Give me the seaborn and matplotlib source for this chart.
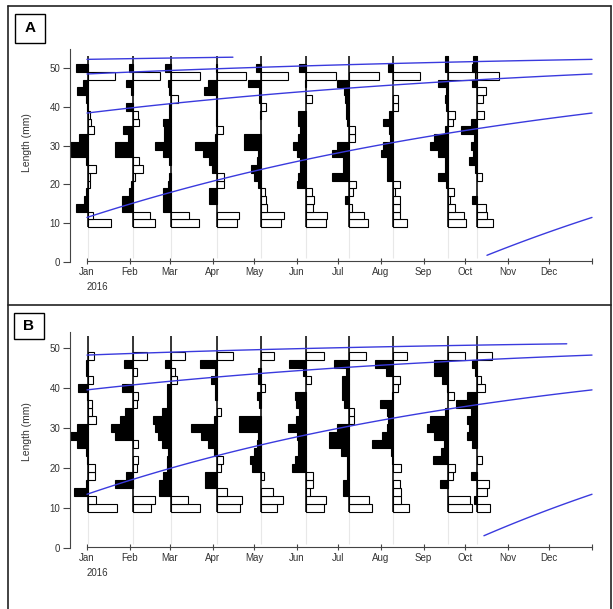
import numpy as np
import pandas as pd
import matplotlib
matplotlib.use('Agg')
import matplotlib.pyplot as plt
import seaborn as sns
from matplotlib.patches import Rectangle
from matplotlib.lines import Line2D

# sampling dates (one histogram per date)
sample_dates = ['2016-01-02', '2016-02-03', '2016-03-02', '2016-04-04', '2016-05-06',
                '2016-06-08', '2016-07-09', '2016-08-10', '2016-09-19', '2016-10-10']

# length class mid points (mm)
length_mids = [10, 12, 14, 16, 18, 20, 22, 24, 26, 28, 30,
               32, 34, 36, 38, 40, 42, 44, 46, 48, 50, 52]

# restructured scores, one row per sample, bins 10..52 mm
# positive = white bar to the right, negative = black bar to the left
scores_a = [
    [23, 5, -12, -4, -2, 2, 2, 8, -2, -17, -18, -9, 6, 3, 2, -1, -2, -11, -5, 27, -12, 0],      # Jan
    [22, 17, -11, -11, -4, -2, 2, 10, 6, -18, -18, -5, -10, 6, 5, -7, 0, -2, -7, 27, -4, 0],    # Feb
    [28, 18, -8, -8, -8, -3, -2, 0, -2, -8, -16, -7, -7, -8, -2, -2, 7, -2, -3, 29, -6, 0],     # Mar
    [20, 22, 0, -8, -8, 7, 7, -5, -8, -14, -22, -2, 6, -1, -1, -1, -1, -13, -9, 29, -1, 0],     # Apr
    [20, 23, 6, 5, 4, -3, -7, -10, -4, -3, -17, -17, 0, 0, -1, 5, -2, -2, -13, 27, -5, 0],      # May
    [20, 21, 7, 8, 6, -9, -8, -6, -6, -9, -13, -8, -6, -8, -8, 0, 6, 0, -1, 30, -7, 0],         # Jun
    [19, 15, 3, -4, 4, 7, -17, -6, -6, -17, -12, 6, 6, -2, -3, -3, -4, -5, -12, 30, 0, 0],      # Jul
    [14, 7, 7, 7, 2, 7, -6, -6, -6, -12, -10, -3, -4, -10, -4, 5, 5, 0, 0, 27, -5, 0],          # Aug
    [18, 16, 7, 2, 6, -2, -10, -3, -3, -10, -18, -14, -3, 5, 7, -2, -3, -2, -10, 27, -3, -3],   # Sep
    [16, 10, 9, -5, 0, 0, 5, -2, -8, -4, -6, -3, -16, -6, 7, 0, 6, 9, -5, 22, -5, -4],          # Oct
]
scores_b = [
    [29, 8, -14, -2, 7, 7, -1, -2, -11, -21, -11, 8, 4, 4, -1, -10, 5, -2, -2, 6, 0, 0],        # Jan
    [18, 22, 0, -18, -7, 4, 5, 0, 5, -18, -22, -13, -8, 4, 5, -11, 0, 4, -9, 14, 0, 0],         # Feb
    [29, 17, -12, -12, -8, -4, -4, -3, -9, -13, -16, -18, -9, -4, -4, -4, 6, 4, -6, 14, 0, 0],  # Mar
    [23, 25, 10, -12, -12, 4, 6, -3, -9, -16, -26, -3, 4, 0, -2, -2, -6, -2, -17, 16, 0, 0],    # Apr
    [16, 22, 12, 0, 3, -9, -11, -7, -4, -3, -22, -22, 0, -2, -4, 4, -3, -3, 0, 13, 0, 0],       # May
    [18, 20, 4, 7, 7, -14, -11, -8, -8, -9, -18, -10, -7, -10, -11, 0, 5, -3, -17, 18, 0, 0],   # Jun
    [23, 20, -6, -6, -2, -2, -2, -8, -20, -20, -12, 5, 5, -5, -7, -7, -7, -3, -15, 17, 0, 0],   # Jul
    [16, 8, 8, 7, 0, 8, -1, -2, -21, -11, -6, -5, -6, -13, -1, 5, 7, -7, -18, 14, 0, 0],        # Aug
    [24, 22, 0, -8, 5, 7, -15, -7, -4, -14, -21, -18, -3, 0, 6, -1, -6, -14, -14, 17, 0, 0],    # Sep
    [13, -3, 10, 12, -6, 0, 5, 0, -5, -10, -8, -10, -6, -21, -10, 8, 4, -2, -5, 15, 0, 0],      # Oct
]

# von Bertalanffy growth curves (Linf mm, K per year, birth as year fraction,
# max age drawn, start of the youngest cohort line as year fraction)
linf_a, k_a, birth_a, tmax_a, young_start_a = 54.5, 0.983, 0.759, 3.53, 0.792
linf_b, k_b, birth_b, tmax_b, young_start_b = 52.66, 1.098, 0.730, 3.22, 0.786

year_start = pd.Timestamp('2016-01-01')
sample_days = [(pd.Timestamp(d) - year_start).days for d in sample_dates]
month_starts = pd.date_range('2016-01-01', '2017-01-01', freq='MS')
month_days = [(d - year_start).days for d in month_starts]
month_labels = [d.strftime('%b') for d in month_starts[:-1]] + ['']

px_per_day = 1.38
curve_color = '#3a3ade'
text_color = '#333333'


def growth_curves(linf, k, birth, tmax, young_start):
    parts = []
    for n in range(5):
        born = birth - n
        t0 = young_start if n == 0 else max(0.0, born)
        t1 = min(1.0, born + tmax)
        if t1 <= t0:
            continue
        t = np.linspace(t0, t1, 80)
        parts.append(pd.DataFrame({
            'day': t * 366,
            'length': linf * (1 - np.exp(-k * (t - born))),
            'cohort': n,
        }))
    return pd.concat(parts, ignore_index=True)


def draw_panel(ax, scores, curves, spine_top):
    for day in sample_days:
        ax.vlines(day, 1, 53, color='#e8e8e8', lw=0.8, zorder=1)
    for day, row in zip(sample_days, scores):
        for mid, s in zip(length_mids, row):
            if s == 0:
                continue
            ax.barh(mid, s / px_per_day, left=day, height=2,
                    color='white' if s > 0 else 'black',
                    edgecolor='black', linewidth=0.8, zorder=2)
        ax.vlines(day, 9, 53, color='black', lw=1.1, zorder=3)

    sns.lineplot(data=curves, x='day', y='length', units='cohort', estimator=None,
                 color=curve_color, lw=1.0, ax=ax, legend=False, zorder=4)

    ax.set_xlim(-12.3, 371.8)
    ax.set_ylim(-0.3, 56)
    ax.set_yticks([0, 10, 20, 30, 40, 50])
    ax.set_xticks(month_days)
    ax.set_xticklabels(month_labels, ha='left')
    ax.tick_params(axis='x', direction='inout', length=5, width=0.8, labelsize=7,
                   colors='#444444', labelcolor=text_color, pad=2)
    ax.tick_params(axis='y', direction='out', length=5, width=0.8, labelsize=7,
                   colors='#444444', labelcolor=text_color, pad=2)
    sns.despine(ax=ax)
    ax.spines['left'].set_bounds(0, spine_top)
    ax.spines['bottom'].set_bounds(0, 366)
    ax.spines['bottom'].set_position(('data', 0.3))
    for sp in ('left', 'bottom'):
        ax.spines[sp].set_color('#444444')
        ax.spines[sp].set_linewidth(0.8)
    ax.set_xlabel('')
    ax.set_ylabel('Length (mm)', fontsize=7.5, color=text_color)
    ax.annotate('2016', xy=(0, 0), xycoords=('data', 'axes fraction'),
                xytext=(0, -24), textcoords='offset pixels',
                ha='left', va='center', fontsize=7, color=text_color)
    ax.grid(False)


sns.set_style('ticks')
plt.rcParams['font.family'] = ['Liberation Sans', 'DejaVu Sans']

fig = plt.figure(figsize=(6.13, 6.09), dpi=100)
ax_a = fig.add_axes([70 / 613, 1 - 263.2 / 609, 530 / 613, 218.4 / 609])
ax_b = fig.add_axes([70 / 613, 1 - 549.5 / 609, 530 / 613, 225.2 / 609])

draw_panel(ax_a, scores_a, growth_curves(linf_a, k_a, birth_a, tmax_a, young_start_a), 55)
draw_panel(ax_b, scores_b, growth_curves(linf_b, k_b, birth_b, tmax_b, young_start_b), 54)
ax_a.yaxis.set_label_coords(-38 / 530, (263.2 - 143) / 218.4)
ax_b.yaxis.set_label_coords(-38 / 530, (549.5 - 432) / 225.2)

# panel frames
W, H = 613, 609
def fig_line(x0, y0, x1, y1):
    fig.add_artist(Line2D([x0 / W, x1 / W], [1 - y0 / H, 1 - y1 / H],
                          transform=fig.transFigure, color='#222222', lw=1.2))

fig_line(8, 6, 611, 6)
fig_line(8, 6, 8, 609)
fig_line(611, 6, 611, 609)
fig_line(8, 305, 611, 305)

for label, (x, y, w, h) in [('A', (15, 14, 30, 29)), ('B', (14, 313, 30, 26))]:
    fig.add_artist(Rectangle((x / W, 1 - (y + h) / H), w / W, h / H,
                             transform=fig.transFigure, fill=False,
                             edgecolor='black', lw=1.0))
    fig.text((x + w / 2) / W, 1 - (y + h / 2) / H, label, ha='center', va='center',
             fontsize=11, fontweight='bold', color='black')

fig.savefig('out.png', dpi=100)
